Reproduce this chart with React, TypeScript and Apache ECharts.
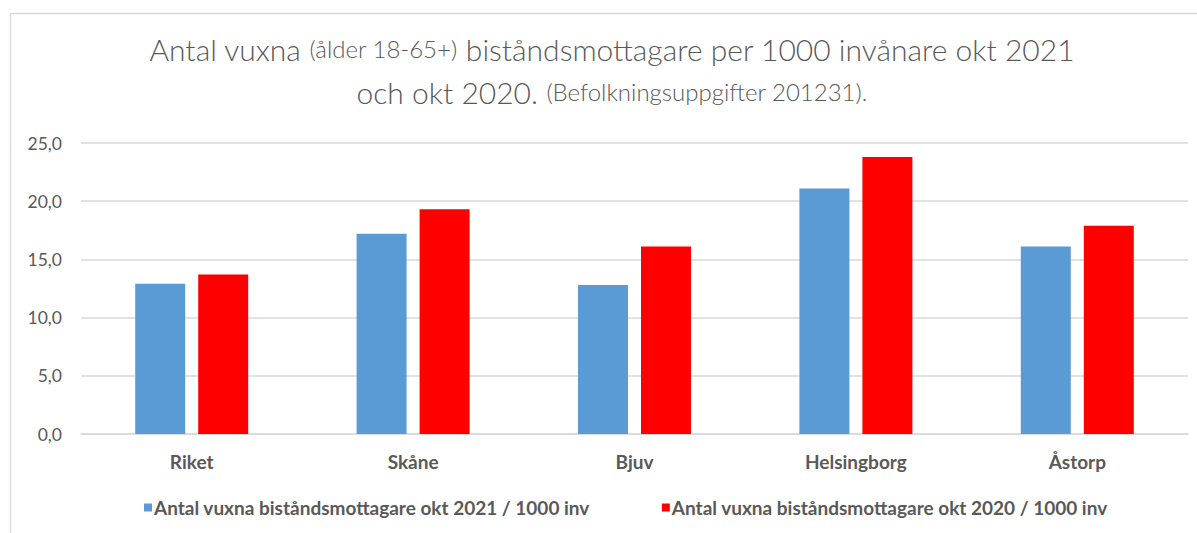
import React, { useEffect, useRef } from "react";
import * as echarts from "echarts";

const categories = ["Riket", "Skåne", "Bjuv", "Helsingborg", "Åstorp"];
const series2021 = [12.9, 17.2, 12.8, 21.1, 16.1];
const series2020 = [13.7, 19.3, 16.1, 23.8, 17.9];
const seriesNames = [
  "Antal vuxna biståndsmottagare okt 2021 / 1000 inv",
  "Antal vuxna biståndsmottagare okt 2020 / 1000 inv",
];
const titleLine1 = ["Antal vuxna ", "(ålder 18-65+)", " biståndsmottagare per 1000 invånare okt 2021"];
const titleLine2 = ["och okt 2020. ", "(Befolkningsuppgifter 201231)."];

const FONT = "Lato, 'Open Sans', sans-serif";

export default function App() {
  const ref = useRef<HTMLDivElement>(null);
  useEffect(() => {
    if (!ref.current) return;
    const chart = echarts.init(ref.current, null, { renderer: "svg" });
    chart.setOption({
      animation: false,
      backgroundColor: "#ffffff",
      textStyle: { fontFamily: FONT },
      graphic: [
        {
          type: "rect",
          shape: { x: 10.5, y: 13.5, width: 1200, height: 600 },
          style: { fill: "none", stroke: "#d9d9d9", lineWidth: 1.5 },
          silent: true,
          z: -1,
        },
        {
          type: "text",
          x: 612,
          y: 27,
          style: {
            text:
              "{a|" + titleLine1[0] + "}{b|" + titleLine1[1] + "}{a|" + titleLine1[2] + "}\n" +
              "{a|" + titleLine2[0] + "}{b|" + titleLine2[1] + "}",
            align: "center",
            verticalAlign: "top",
            rich: {
              a: { fontSize: 30, fill: "#595959", fontFamily: FONT, fontWeight: 300, lineHeight: 43 },
              b: { fontSize: 24, fill: "#595959", fontFamily: FONT, fontWeight: 300, lineHeight: 43 },
            },
          },
        },
      ],
      legend: {
        bottom: 11,
        left: 139,
        itemWidth: 8,
        itemHeight: 8,
        itemGap: 72,
        icon: "rect",
        textStyle: { fontSize: 19, fontWeight: "bold", color: "#595959", fontFamily: FONT, padding: [0, 0, 0, -3] },
        data: seriesNames,
      },
      grid: { left: 81, right: 9, top: 143, bottom: 99 },
      xAxis: {
        type: "category",
        data: categories,
        axisTick: { show: false },
        axisLine: { lineStyle: { color: "#d9d9d9", width: 1.5 } },
        axisLabel: { fontSize: 19, fontWeight: "bold", color: "#595959", margin: 18, fontFamily: FONT },
      },
      yAxis: {
        type: "value",
        min: 0,
        max: 25,
        interval: 5,
        axisLine: { show: false },
        axisTick: { show: false },
        splitLine: { lineStyle: { color: "#d9d9d9", width: 1.5 } },
        axisLabel: {
          fontSize: 17.5,
          color: "#595959",
          margin: 19,
          fontFamily: FONT,
          formatter: (v: number) => v.toFixed(1).replace(".", ","),
        },
      },
      series: [
        {
          name: seriesNames[0],
          type: "bar",
          data: series2021,
          barWidth: 50,
          barGap: "26%",
          itemStyle: { color: "#5b9bd5" },
        },
        {
          name: seriesNames[1],
          type: "bar",
          data: series2020,
          barWidth: 50,
          itemStyle: { color: "#ff0000" },
        },
      ],
    });
    return () => chart.dispose();
  }, []);
  return <div ref={ref} style={{ width: 1197, height: 533, position: "absolute", left: 0, top: 0 }} />;
}
